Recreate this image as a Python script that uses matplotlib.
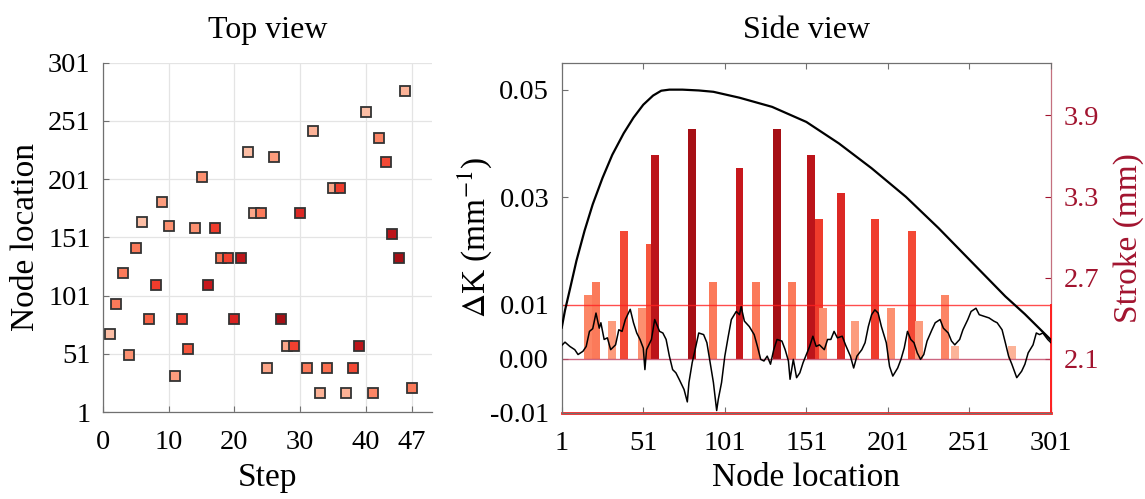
import matplotlib
matplotlib.use("Agg")
import matplotlib.pyplot as plt
import matplotlib.colors as mcolors
import numpy as np

plt.rcParams["font.family"] = ["Liberation Serif", "DejaVu Serif"]
plt.rcParams["mathtext.fontset"] = "stix"

# actuation sequence: node hit at each step and the stroke used (mm)
steps = list(range(1, 48))
step_nodes = [68, 94, 120, 50, 142, 164, 81, 110, 181, 161,
              32, 81, 55, 159, 203, 110, 159, 133, 133, 81,
              133, 224, 172, 172, 39, 220, 81, 58, 58, 172,
              39, 242, 17, 39, 193, 193, 17, 39, 58, 259,
              17, 236, 216, 154, 133, 277, 22]
step_stroke = [2.10, 2.665, 2.665, 2.476, 2.665, 2.10, 2.85, 3.135, 2.383, 2.476,
               2.383, 3.135, 2.949, 2.476, 2.476, 3.514, 3.135, 2.75, 3.10, 3.35,
               3.60, 2.10, 2.30, 2.665, 2.30, 2.383, 3.797, 2.30, 3.10, 3.325,
               2.665, 2.193, 2.20, 2.75, 2.30, 3.135, 2.20, 3.042, 3.608, 2.10,
               2.569, 2.569, 3.042, 3.608, 3.797, 2.193, 2.665]

# curvature envelope along the rod (x1e-3 mm^-1)
env_node = [1, 3, 6, 10, 15, 20, 26, 32, 39, 45, 51, 57, 62, 67, 75, 85, 94,
            110, 130, 151, 171, 191, 212, 232, 252, 273, 285, 301]
env_dk = [5.8, 9.0, 12.9, 18.2, 23.8, 28.7, 33.6, 37.9, 41.9, 44.8, 47.2, 48.9,
          49.8, 50.0, 50.0, 49.85, 49.6, 48.5, 46.8, 44.0, 40.0, 35.4, 30.1, 24.3,
          18.1, 11.6, 8.3, 3.5]

# measured curvature change along the rod (x1e-3 mm^-1)
dk_node = [1, 3, 6, 9, 11, 14, 16, 18, 20, 22, 24, 25, 27, 29, 31, 34, 36, 38, 40, 43,
           45, 47, 49, 51, 52, 53, 56, 58, 61, 63, 65, 67, 69, 71, 73, 76, 78, 79, 81, 83,
           85, 88, 90, 92, 94, 96, 97, 99, 101, 103, 105, 108, 110, 111, 113, 116, 119, 121, 123, 125,
           127, 129, 131, 133, 136, 138, 140, 141, 143, 145, 147, 149, 151, 153, 155, 157, 159, 162, 164, 166,
           168, 170, 173, 175, 178, 180, 182, 185, 187, 189, 191, 193, 195, 197, 200, 202, 204, 207, 209, 211,
           213, 215, 217, 219, 221, 223, 225, 228, 230, 233, 235, 238, 240, 242, 245, 247, 250, 252, 255, 257,
           260, 263, 266, 268, 271, 273, 275, 277, 280, 283, 285, 287, 290, 292, 294, 296, 299, 301]
dk_val = [2.5, 3.1, 2.3, 1.7, 0.8, 1.4, 2.3, 5.1, 5.6, 8.5, 5.7, 6.7, 3.6, 3.9, 1.7, 2.6, 5.4, 5.1, 7.3, 9.2,
          6.7, 4.8, 3.6, 2.0, -2.0, 1.7, 3.6, 7.3, 5.1, 4.8, 3.6, 0.5, -2.0, -2.6, -3.8, -5.7, -8.0, -4.4, -0.7, 2.0,
          4.8, 4.5, 3.0, -0.7, -4.4, -9.6, -7.5, -4.4, 0.5, 4.0, 7.3, 8.8, 8.2, 9.7, 7.0, 6.0, 4.5, 2.3, -0.1, -0.4,
          0.5, -1.0, 1.7, 3.6, 3.3, 1.7, -0.4, -3.8, -0.1, -3.5, -2.6, -0.7, 0.8, 2.3, 4.2, 2.3, 2.6, 1.7, 3.6, 3.6,
          5.1, 3.9, 4.2, 2.6, 0.5, -1.7, 0.5, 1.7, 3.0, 6.0, 8.2, 9.1, 8.5, 6.0, 3.0, -1.4, -3.2, -1.7, -0.1, 2.0,
          5.1, 3.6, 3.0, 1.1, -0.1, 0.8, 3.3, 5.4, 6.7, 7.3, 5.7, 4.8, 3.3, 2.6, 3.6, 5.4, 7.3, 8.8, 9.4, 8.2,
          7.9, 7.6, 7.0, 6.7, 5.4, 3.0, 0.5, -1.0, -3.5, -2.3, -1.0, 1.1, 2.6, 4.8, 4.5, 4.8, 3.6, 3.0]

cmap = plt.get_cmap("Reds")
norm = mcolors.Normalize(vmin=1.45, vmax=4.15)
axis_gray = "#707070"
stroke_red = "#A2142F"

# final stroke left at each node
final_stroke = {}
for n, s in zip(step_nodes, step_stroke):
    final_stroke[n] = s
bar_nodes = sorted(final_stroke)
bar_vals = [final_stroke[n] for n in bar_nodes]

fig = plt.figure(figsize=(11.45, 4.99), dpi=100)

# ---- Top view ----
ax1 = fig.add_axes([0.09, 0.1743, 0.287, 0.7])
ax1.grid(True, color="#e4e4e4", lw=0.9)
ax1.set_axisbelow(True)
for st, n, s in zip(steps, step_nodes, step_stroke):
    ax1.plot(st, n, "s", ms=7.6, mfc=cmap(norm(s)), mec="#333333", mew=1.3, zorder=3)
ax1.set_xlim(0, 50)
ax1.set_ylim(1, 301)
ax1.set_xticks([0, 10, 20, 30, 40, 47])
ax1.set_yticks(range(1, 302, 50))
ax1.spines["top"].set_visible(False)
ax1.spines["right"].set_visible(False)
for sp in ("left", "bottom"):
    ax1.spines[sp].set_color(axis_gray)
    ax1.spines[sp].set_linewidth(0.9)
ax1.tick_params(direction="in", length=4, color=axis_gray, labelsize=20.5, pad=9)
ax1.tick_params(axis="x", pad=13)
ax1.set_xlabel("Step", fontsize=24, labelpad=5)
ax1.set_ylabel("Node location", fontsize=24, labelpad=5)
ax1.set_title("Top view", fontsize=23, pad=18)

# ---- Side view ----
ax2 = fig.add_axes([0.4906, 0.173, 0.4273, 0.7013])
ax3 = ax2.twinx()
ax3.bar(bar_nodes, [v - 2.1 for v in bar_vals], bottom=2.1, width=4.9,
        color=[cmap(norm(v)) for v in bar_vals], linewidth=0)
ax3.set_ylim(1.702, 4.289)
ax3.set_yticks([2.1, 2.7, 3.3, 3.9])
ax3.tick_params(direction="in", length=4, colors=stroke_red, labelsize=20.5, pad=9)
ax3.set_ylabel("Stroke (mm)", fontsize=24, color=stroke_red, labelpad=10)
for sp in ("left", "top", "bottom"):
    ax3.spines[sp].set_visible(False)
ax3.spines["right"].set_color("#c4707f")
ax3.spines["right"].set_linewidth(0.9)

ax2.set_zorder(ax3.get_zorder() + 1)
ax2.patch.set_visible(False)
ax2.axhline(0.01, color="#ff2020", lw=1.0, alpha=0.8, zorder=2)
ax2.axhline(0.0, color="#c04060", lw=1.0, alpha=0.8, zorder=2)
ax2.plot([1, 301], [-0.01, -0.01], color="#ff2020", lw=2.0, clip_on=False, zorder=2)
ax2.plot([301, 301], [-0.01, 0.01], color="#ff2020", lw=1.4, clip_on=False, zorder=2)
ax2.plot(env_node, np.array(env_dk) / 1000, color="black", lw=1.6, zorder=3)
ax2.plot(dk_node, np.array(dk_val) / 1000, color="black", lw=1.1, zorder=3)
ax2.set_xlim(1, 301)
ax2.set_ylim(-0.01, 0.055)
ax2.set_xticks(range(1, 302, 50))
ax2.set_yticks([-0.01, 0.0, 0.01, 0.03, 0.05])
ax2.set_yticklabels(["-0.01", "0.00", "0.01", "0.03", "0.05"])
ax2.spines["right"].set_visible(False)
for sp in ("left", "top", "bottom"):
    ax2.spines[sp].set_color(axis_gray)
    ax2.spines[sp].set_linewidth(0.9)
ax2.tick_params(direction="in", length=4, color=axis_gray, labelsize=20.5, pad=9,
                top=True)
ax2.tick_params(axis="x", pad=13)
ax2.set_xlabel("Node location", fontsize=24, labelpad=5)
ax2.set_ylabel(r"$\Delta$K (mm$^{-1}$)", fontsize=24, labelpad=-3)
ax2.set_title("Side view", fontsize=23, pad=18)

fig.savefig("out.png", dpi=100)
